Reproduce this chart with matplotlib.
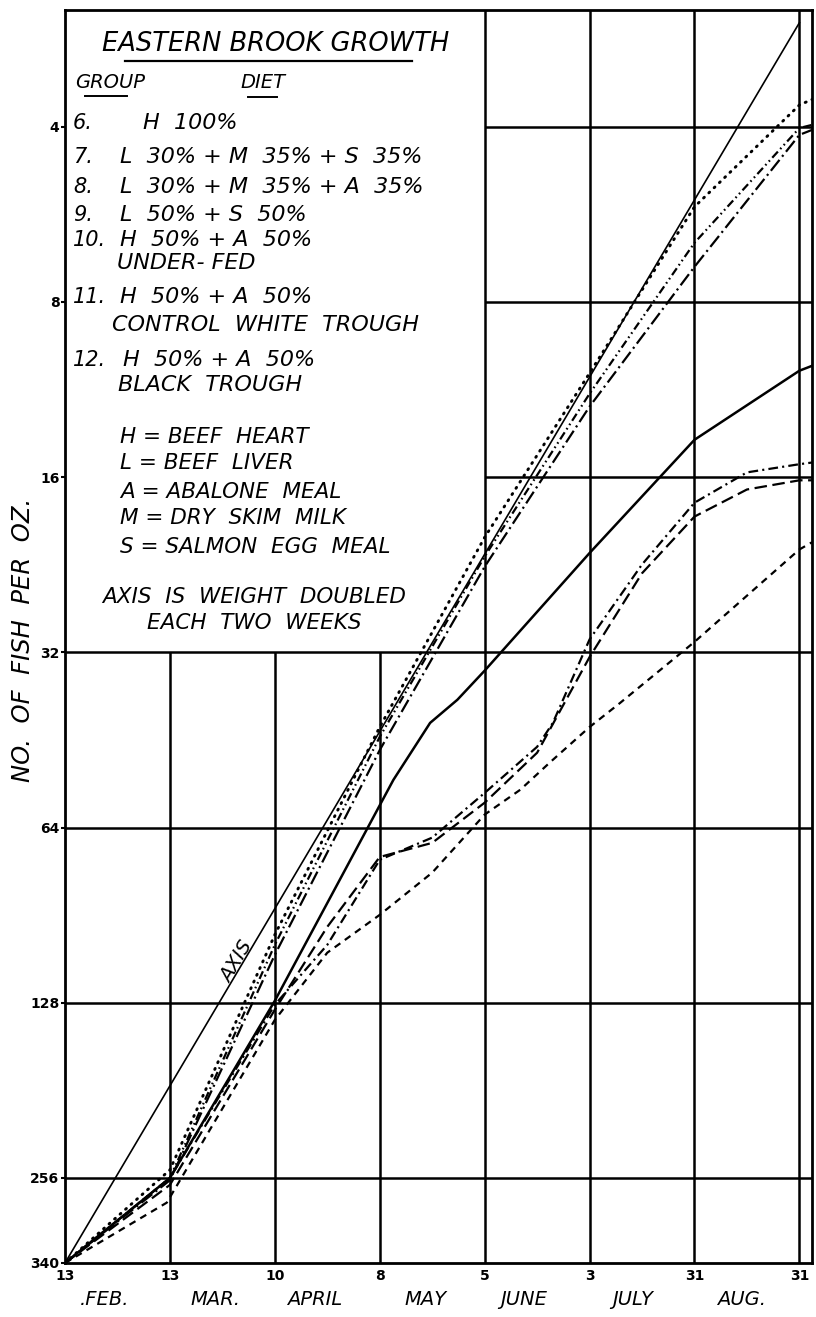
import numpy as np
import matplotlib
matplotlib.use("Agg")
import matplotlib.pyplot as plt

# ---------------- data ----------------
DAY_LABELS = ["13", "13", "10", "8", "5", "3", "31", "31"]          # Feb13 ... Aug31, 4-week steps
MONTHS = [".FEB.", "MAR.", "APRIL", "MAY", "JUNE", "JULY", "AUG."]
MONTH_POS = [0.38, 1.43, 2.38, 3.44, 4.37, 5.41, 6.45]
Y_TICKS = [4, 8, 16, 32, 64, 128, 256, 340]
Y_TICK_LABELS = ["4", "8", "16", "32", "64", "128", "256", "340"]

# "AXIS" reference line (weight doubling line)
axis_t = [0, 7]
axis_v = [340, 2.65]

# upper bundle
dotted_t = [0, 1, 2, 3, 4, 5, 6, 7, 7.12]
dotted_v = [340, 248, 97.8, 43.0, 20.3, 10.6, 5.49, 3.67, 3.59]

dashdotdot_t = [0, 1, 2, 3, 4, 5, 6, 7, 7.12]
dashdotdot_v = [340, 256, 101.8, 44.7, 21.9, 11.5, 6.33, 4.02, 3.97]

longdashdot_t = [0, 1, 2, 3, 4, 5, 6, 7, 7.12]
longdashdot_v = [340, 258, 105.9, 47.1, 22.8, 12.1, 6.96, 4.13, 4.05]

# lower group
solid_t = [0, 1, 2, 3.13, 3.48, 3.74, 4, 5, 6, 7, 7.12]
solid_v = [340, 256, 127, 53.0, 42.3, 38.6, 34.4, 21.6, 13.8, 10.5, 10.3]

dashdot_t = [0, 1, 2, 2.5, 3, 3.5, 4, 4.5, 4.65, 5, 5.5, 6, 6.5, 7, 7.12]
dashdot_v = [340, 256, 129, 101.8, 72.7, 66.6, 55.8, 46.5, 42.3, 30.4, 22.6, 17.7, 15.7, 15.2, 15.1]

longdash_t = [0, 1, 2, 2.5, 3, 3.5, 4, 4.5, 5, 5.5, 6, 6.5, 7, 7.12]
longdash_v = [340, 262, 131.6, 94.8, 71.9, 68.0, 58.0, 47.6, 32.6, 23.4, 18.7, 16.8, 16.2, 16.2]

shortdash_t = [0, 0.97, 2, 2.5, 3, 3.5, 4, 4.34, 4.62, 5, 5.29, 6, 7, 7.12]
shortdash_v = [340, 278, 137, 105, 90.4, 76.5, 60.8, 55.1, 49.5, 43.0, 39.1, 30.7, 21.3, 20.7]

LEGEND_LINES = [
    ("6.", "H  100%"),
    ("7.", "L  30% + M  35% + S  35%"),
    ("8.", "L  30% + M  35% + A  35%"),
    ("9.", "L  50% + S  50%"),
    ("10.", "H  50% + A  50%"),
    ("", "UNDER- FED"),
    ("11.", "H  50% + A  50%"),
    ("", "CONTROL  WHITE  TROUGH"),
    ("12.", "H  50% + A  50%"),
    ("", "BLACK  TROUGH"),
]
KEY_LINES = [
    "H = BEEF  HEART",
    "L = BEEF  LIVER",
    "A = ABALONE  MEAL",
    "M = DRY  SKIM  MILK",
    "S = SALMON  EGG  MEAL",
]
NOTE_LINES = ["AXIS  IS  WEIGHT  DOUBLED", "EACH  TWO  WEEKS"]

# ---------------- figure ----------------
plt.rcParams["font.family"] = ["DejaVu Sans"]
plt.rcParams["lines.scale_dashes"] = False

W, H = 816, 1317
fig = plt.figure(figsize=(W / 100, H / 100), dpi=100)
fig.patch.set_facecolor("white")

L, R, T, B = 65, 812, 10, 1263
ax = fig.add_axes([L / W, 1 - B / H, (R - L) / W, (B - T) / H])

K = 1.186  # the bottom interval (256-340) is drawn slightly stretched in the original


def fwd(v):
    v = np.clip(np.asarray(v, dtype=float), 1e-9, None)
    l = np.log2(v)
    return np.where(l > 8, 8 + (l - 8) * K, l)


def inv(y):
    y = np.clip(np.asarray(y, dtype=float), -50, 50)
    return np.where(y > 8, 2.0 ** (8 + (y - 8) / K), 2.0 ** y)


ax.set_yscale("function", functions=(fwd, inv))
XMAX = 7.12
ax.set_xlim(0, XMAX)
ax.set_ylim(340, 2.52)

# grid: the legend box (upper-left) has no grid
GRID_LW = 1.8
for i in range(1, 8):
    if i < 4:
        ax.vlines(i, 32, 340, color="black", lw=GRID_LW, zorder=1)
    else:
        ax.vlines(i, 2.52, 340, color="black", lw=GRID_LW, zorder=1)
for v in Y_TICKS[:-1]:
    if v < 32:
        ax.hlines(v, 4, XMAX, color="black", lw=GRID_LW, zorder=1)
    else:
        ax.hlines(v, 0, XMAX, color="black", lw=GRID_LW, zorder=1)

for s in ax.spines.values():
    s.set_linewidth(2.0)

# ---------------- lines ----------------
LW = 1.6
ax.plot(axis_t, axis_v, color="black", lw=1.2, zorder=3)
ax.plot(dotted_t, dotted_v, color="black", lw=2.1, linestyle=(0, (0.8, 4.5)),
        dash_capstyle="round", zorder=3)
ax.plot(dashdotdot_t, dashdotdot_v, color="black", lw=LW,
        linestyle=(0, (6, 2.5, 1.2, 2.5, 1.2, 2.5)), zorder=3)
ax.plot(longdashdot_t, longdashdot_v, color="black", lw=LW,
        linestyle=(0, (10, 3, 1.5, 3)), zorder=3)
ax.plot(solid_t, solid_v, color="black", lw=1.8, zorder=3)
ax.plot(dashdot_t, dashdot_v, color="black", lw=LW,
        linestyle=(0, (7, 3, 1.5, 3)), zorder=3)
ax.plot(longdash_t, longdash_v, color="black", lw=LW,
        linestyle=(0, (9, 4)), zorder=3)
ax.plot(shortdash_t, shortdash_v, color="black", lw=LW,
        linestyle=(0, (5, 4)), zorder=3)

# ---------------- ticks ----------------
ax.set_yticks(Y_TICKS)
ax.set_yticklabels(Y_TICK_LABELS, fontsize=10, fontweight="bold")
ax.yaxis.set_minor_locator(matplotlib.ticker.NullLocator())
ax.tick_params(axis="y", length=3, width=1.5, pad=1)

ax.set_xticks(range(8))
ax.set_xticklabels(DAY_LABELS, fontsize=10, fontweight="bold")
ax.tick_params(axis="x", length=0, pad=4)

for name, pos in zip(MONTHS, MONTH_POS):
    ax.text(pos, -0.029, name, transform=ax.get_xaxis_transform(), ha="center",
            va="center", fontsize=14, style="italic")

# axis label
fig.text(23 / W, 1 - 640 / H, "NO.  OF  FISH  PER  OZ.", rotation=90, ha="center",
         va="center", fontsize=17.5, style="italic")

# "AXIS" label along the reference line
fig.text(237 / W, 1 - 962 / H, "AXIS", rotation=59, ha="center", va="center",
         fontsize=14, style="italic")


# ---------------- legend text block ----------------
def ftext(x, y, s, size=16, **kw):
    fig.text(x / W, 1 - y / H, s, ha="left", va="center", fontsize=size,
             style="italic", **kw)


def uline(x0, x1, y, lw=1.4):
    fig.add_artist(plt.Line2D([x0 / W, x1 / W], [1 - y / H, 1 - y / H],
                              color="black", lw=lw, transform=fig.transFigure))


ftext(102, 44, "EASTERN BROOK GROWTH", size=18.5)
uline(125, 412, 61, lw=1.6)
ftext(75, 83, "GROUP", size=14)
uline(85, 127, 96)
ftext(240, 83, "DIET", size=14)
uline(248, 277, 97)

LEG_Y = [123, 157, 187, 215, 240, 263, 297, 325, 360, 385]
LEG_X = [143, 120, 120, 120, 120, 117, 120, 112, 123, 118]
for (num, txt), y, x in zip(LEGEND_LINES, LEG_Y, LEG_X):
    if num:
        ftext(73, y, num, size=15)
    ftext(x, y, txt, size=16)

for txt, y in zip(KEY_LINES, [437, 463, 492, 518, 547]):
    ftext(120, y, txt, size=15.5)

ftext(102, 597, NOTE_LINES[0], size=15.5)
ftext(147, 623, NOTE_LINES[1], size=15.5)

fig.savefig("out.png", dpi=100, facecolor="white")
